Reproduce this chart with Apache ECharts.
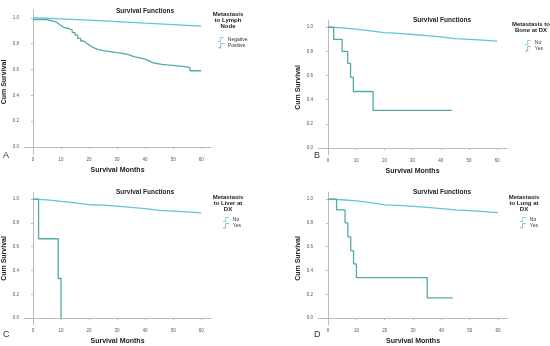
<!DOCTYPE html>
<html><head><meta charset="utf-8">
<script src="https://cdn.jsdelivr.net/npm/echarts@6/dist/echarts.min.js"></script>
<style>html,body{margin:0;padding:0;background:#fff}#c{width:550px;height:346px}</style>
</head><body><div id="c"></div>
<script>
// ---- data ----
const monthTicks = [0, 10, 20, 30, 40, 50, 60];
const survTicks = [0, 0.2, 0.4, 0.6, 0.8, 1.0];

// Panel A: Metastasis to Lymph Node
const lymphNegT = [0, 10, 20, 30, 40, 50, 60];
const lymphNegS = [1.0, 0.992, 0.982, 0.97, 0.958, 0.947, 0.935];
const lymphPosT = [0, 5, 6, 8, 9, 10, 11, 13, 14, 15, 16, 17, 18, 19, 20, 21, 22, 23, 25, 30, 32, 34, 36, 38, 40, 41, 42, 43, 46, 48, 55, 56, 60];
const lymphPosS = [0.985, 0.98, 0.97, 0.955, 0.94, 0.925, 0.915, 0.905, 0.885, 0.865, 0.84, 0.82, 0.805, 0.79, 0.775, 0.765, 0.755, 0.745, 0.73, 0.725, 0.715, 0.70, 0.69, 0.68, 0.67, 0.66, 0.65, 0.64, 0.635, 0.62, 0.615, 0.59, 0.59];

// Panel B: Metastasis to Bone at DX
const boneNoT = [0, 5, 10, 15, 20, 25, 30, 35, 40, 45, 50, 55, 60];
const boneNoS = [1.0, 0.995, 0.985, 0.97, 0.955, 0.95, 0.94, 0.93, 0.92, 0.905, 0.9, 0.893, 0.885];
const boneYesT = [0, 2, 5, 7, 8, 9, 16, 44];
const boneYesS = [1.0, 0.9, 0.8, 0.7, 0.585, 0.468, 0.312, 0.312];

// Panel C: Metastasis to Liver at DX
const liverNoT = [0, 5, 10, 15, 20, 25, 30, 35, 40, 45, 50, 55, 60];
const liverNoS = [1.0, 0.993, 0.982, 0.968, 0.953, 0.95, 0.942, 0.93, 0.92, 0.906, 0.9, 0.893, 0.884];
const liverYesT = [0, 2, 9, 10];
const liverYesS = [1.0, 0.667, 0.333, 0.0];

// Panel D: Metastasis to Lung at DX
const lungNoT = [0, 5, 10, 15, 20, 25, 30, 35, 40, 45, 50, 55, 60];
const lungNoS = [1.0, 0.995, 0.985, 0.97, 0.952, 0.948, 0.94, 0.93, 0.92, 0.909, 0.903, 0.895, 0.887];
const lungYesT = [0, 3, 6, 7, 8, 9, 10, 35, 44];
const lungYesS = [1.0, 0.909, 0.8, 0.682, 0.568, 0.455, 0.341, 0.17, 0.17];

// ---- chart ----
const FONT = 'Liberation Sans';
const C_NO = '#63c4da';
const C_YES = '#55aaa7';
const zip = (t, s) => t.map((v, i) => [v, s[i]]);

const panels = [
  {letter: 'A', grid: {left: 22, top: 10, width: 189, height: 144}, title: [140, 3], legendTitle: ['Metastasis', 'to Lymph', 'Node'], ltPos: [228, 11], legPos: [213, 32], names: ['Negative', 'Positive'], series: [zip(lymphNegT, lymphNegS), zip(lymphPosT, lymphPosS)], ymin: -0.054, ymax: 1.06, letterPos: [3, 151]},
  {letter: 'B', grid: {left: 318, top: 20, width: 189, height: 135}, title: [437, 12], legendTitle: ['Metastasis to', 'Bone at DX'], ltPos: [531, 21], legPos: [520, 35], names: ['No', 'Yes'], series: [zip(boneNoT, boneNoS), zip(boneYesT, boneYesS)], ymin: -0.058, ymax: 1.06, letterPos: [314, 151]},
  {letter: 'C', grid: {left: 22, top: 192, width: 189, height: 135}, title: [140, 184], legendTitle: ['Metastasis', 'to Liver at', 'DX'], ltPos: [228, 194], legPos: [218, 212], names: ['No', 'Yes'], series: [zip(liverNoT, liverNoS), zip(liverYesT, liverYesS)], ymin: -0.058, ymax: 1.06, letterPos: [3, 330]},
  {letter: 'D', grid: {left: 318, top: 192, width: 190, height: 135}, title: [437, 184], legendTitle: ['Metastasis', 'to Lung at', 'DX'], ltPos: [524, 194], legPos: [515, 212], names: ['No', 'Yes'], series: [zip(lungNoT, lungNoS), zip(lungYesT, lungYesS)], ymin: -0.058, ymax: 1.06, letterPos: [314, 330]}
];

const option = {
  animation: false,
  backgroundColor: '#fff',
  textStyle: {fontFamily: FONT},
  title: [], grid: [], xAxis: [], yAxis: [], series: [], legend: [], graphic: []
};

const stepIcon = 'path://M0,9 L5,9 L5,0 L12,0 L12,1.6 L6.6,1.6 L6.6,10.6 L0,10.6 Z';

panels.forEach((p, i) => {
  option.grid.push(p.grid);
  option.title.push({text: 'Survival Functions', left: p.title[0], top: p.title[1], textAlign: 'center',
    textStyle: {fontSize: 6.5, fontWeight: 'bold', color: '#222', fontFamily: FONT}});
  option.xAxis.push({
    type: 'value', gridIndex: i, min: (p.letter === 'A' || p.letter === 'C') ? -3.2 : -3.55, max: 63.5,
    name: 'Survival Months', nameLocation: 'middle', nameGap: 13,
    nameTextStyle: {fontSize: 7, fontWeight: 'bold', color: '#222'},
    axisLine: {show: true, lineStyle: {color: '#bbb', width: 1}},
    axisTick: {show: true, length: 2, customValues: monthTicks, lineStyle: {color: '#bbb'}},
    axisLabel: {customValues: monthTicks, fontSize: 4.5, color: '#555', margin: 3},
    splitLine: {show: false}
  });
  option.yAxis.push({
    type: 'value', gridIndex: i, min: p.ymin, max: p.ymax,
    name: 'Cum Survival', nameLocation: 'middle', nameGap: 16, nameRotate: 90,
    nameTextStyle: {fontSize: 7, fontWeight: 'bold', color: '#222'},
    axisLine: {show: true, lineStyle: {color: '#bbb', width: 1}},
    axisTick: {show: true, length: 2, customValues: survTicks, lineStyle: {color: '#bbb'}},
    axisLabel: {customValues: survTicks, fontSize: 4.5, color: '#555', margin: 5, formatter: v => v.toFixed(1)},
    splitLine: {show: false}
  });
  p.series.forEach((d, k) => {
    option.series.push({
      type: 'line', name: p.names[k], xAxisIndex: i, yAxisIndex: i, data: d,
      step: k === 0 ? false : 'end', showSymbol: false, symbol: 'none',
      lineStyle: {color: k === 0 ? C_NO : C_YES, width: 1.3},
      itemStyle: {color: k === 0 ? C_NO : C_YES}
    });
  });
  option.legend.push({
    data: p.names, left: p.legPos[0], top: p.legPos[1], orient: 'vertical',
    itemWidth: 8, itemHeight: 5, itemGap: 1.2, icon: stepIcon,
    textStyle: {fontSize: 5, color: '#333', padding: [0, 0, 0, -2]}
  });
  p.legendTitle.forEach((line, j) => {
    option.graphic.push({type: 'text', x: p.ltPos[0], y: p.ltPos[1] + j * 6,
      style: {text: line, fontSize: 6, fontWeight: 'bold', fill: '#222', align: 'center', verticalAlign: 'top', fontFamily: FONT}});
  });
  option.graphic.push({type: 'text', x: p.letterPos[0], y: p.letterPos[1],
    style: {text: p.letter, fontSize: 9, fill: '#333', fontFamily: FONT}});
});

const chart = echarts.init(document.getElementById('c'), null, {renderer: 'canvas'});
chart.setOption(option);
</script>
</body></html>
